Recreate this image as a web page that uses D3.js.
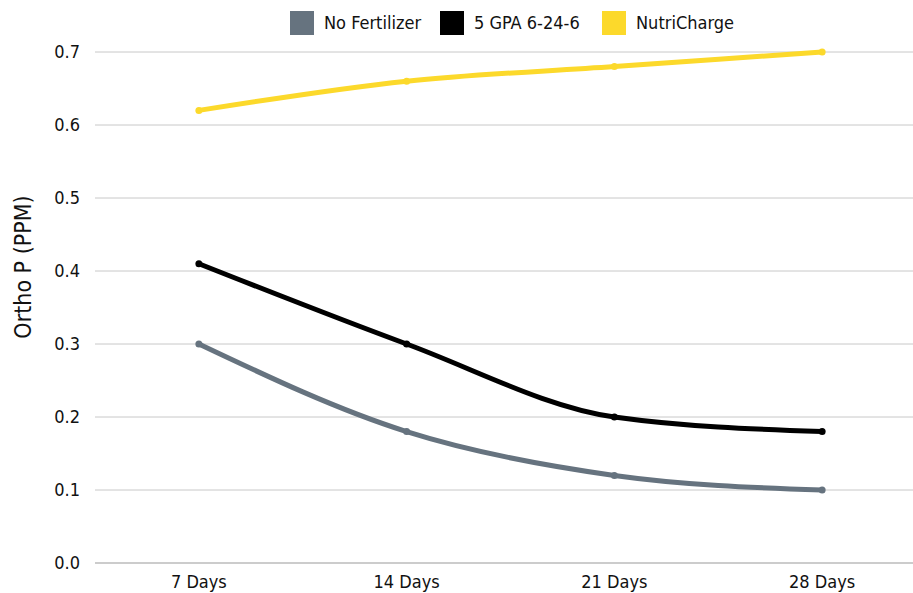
<!DOCTYPE html>
<html>
<head>
<meta charset="utf-8">
<script src="https://cdn.jsdelivr.net/npm/d3@7"></script>
<style>
  body { margin: 0; background: #fff; }
  text { font-family: "DejaVu Sans Condensed", "DejaVu Sans", sans-serif; font-stretch: condensed; fill: #111; }
</style>
</head>
<body>
<div id="chart"></div>
<script>
// data
const days = ["7 Days", "14 Days", "21 Days", "28 Days"];
const seriesNames = ["No Fertilizer", "5 GPA 6-24-6", "NutriCharge"];
const noFertilizer = [0.30, 0.18, 0.12, 0.10];
const gpa = [0.41, 0.30, 0.20, 0.18];
const nutriCharge = [0.62, 0.66, 0.68, 0.70];
const yTicks = [0, 0.1, 0.2, 0.3, 0.4, 0.5, 0.6, 0.7];

const colors = ["#66737f", "#000000", "#fcd92b"];
const series = [noFertilizer, gpa, nutriCharge];

const W = 913, H = 593;
const margin = {top: 52, right: 0, bottom: 30, left: 95};

const svg = d3.select("#chart").append("svg")
    .attr("width", W)
    .attr("height", H);

// points sit in the middle of equal slots; the last slot runs past the edge
const x = d3.scalePoint()
    .domain(days)
    .range([margin.left, W + 13])
    .padding(0.5);

const y = d3.scaleLinear()
    .domain([0, 0.7])
    .range([H - margin.bottom, margin.top]);

// grid
svg.append("g")
  .selectAll("line")
  .data(yTicks)
  .join("line")
    .attr("x1", margin.left)
    .attr("x2", W - margin.right)
    .attr("y1", d => y(d))
    .attr("y2", d => y(d))
    .attr("stroke", d => d === 0 ? "#999" : "#c8c8c8")
    .attr("stroke-width", 1);

// y labels
svg.append("g")
  .selectAll("text")
  .data(yTicks)
  .join("text")
    .attr("x", 80)
    .attr("y", d => y(d))
    .attr("dy", "0.35em")
    .attr("text-anchor", "end")
    .style("font-size", "18px")
    .text(d => d.toFixed(1));

// x labels
svg.append("g")
  .selectAll("text")
  .data(days)
  .join("text")
    .attr("x", d => x(d))
    .attr("y", 582)
    .attr("dy", "0.35em")
    .attr("text-anchor", "middle")
    .style("font-size", "18px")
    .text(d => d);

// axis title
svg.append("text")
  .attr("transform", "translate(31,267) rotate(-90)")
  .attr("text-anchor", "middle")
  .style("font-size", "23px")
  .text("Ortho P (PPM)");

// lines
const line = d3.line()
  .x((d, i) => x(days[i]))
  .y(d => y(d))
  .curve(d3.curveMonotoneX);

series.forEach(function(s, k) {
  svg.append("path")
    .datum(s)
    .attr("fill", "none")
    .attr("stroke", colors[k])
    .attr("stroke-width", 5)
    .attr("d", line);

  svg.append("g")
    .selectAll("circle")
    .data(s)
    .join("circle")
      .attr("cx", (d, i) => x(days[i]))
      .attr("cy", d => y(d))
      .attr("r", 3.5)
      .attr("fill", colors[k]);
});

// legend
const legendX = [290, 440, 602];
const legend = svg.append("g")
  .selectAll("g")
  .data(seriesNames)
  .join("g")
    .attr("transform", (d, i) => `translate(${legendX[i]},11)`);

legend.append("rect")
  .attr("width", 24)
  .attr("height", 24)
  .attr("fill", (d, i) => colors[i]);

legend.append("text")
  .attr("x", 34)
  .attr("y", 12)
  .attr("dy", "0.35em")
  .style("font-size", "18px")
  .text(d => d);
</script>
</body>
</html>
